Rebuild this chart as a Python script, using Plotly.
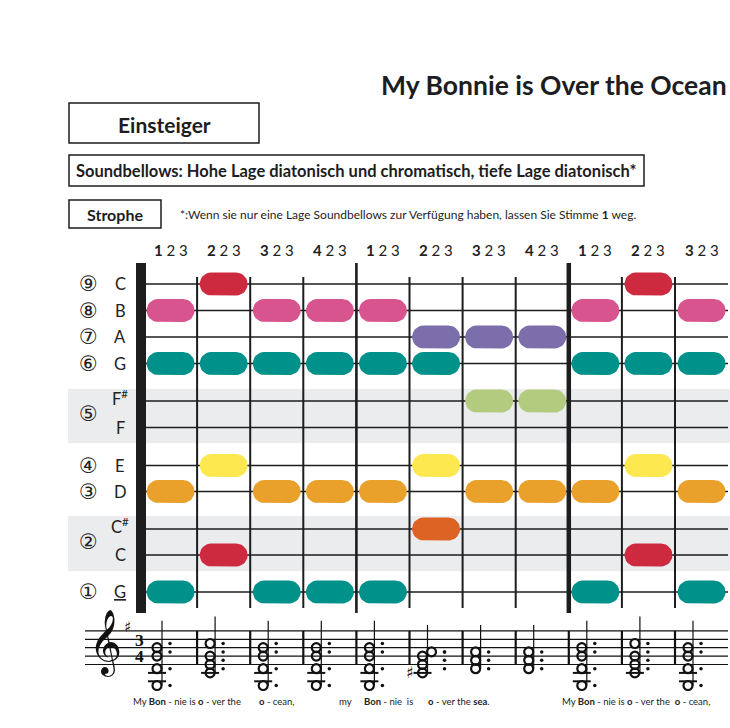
import numpy as np
import plotly.graph_objects as go

# ---------------- data ----------------
TITLE = "My Bonnie is Over the Ocean"
LEVEL = "Einsteiger"
SUBTITLE = "Soundbellows: Hohe Lage diatonisch und chromatisch, tiefe Lage diatonisch*"
SECTION = "Strophe"
FOOTNOTE = "*:Wenn sie nur eine Lage Soundbellows zur Verfügung haben, lassen Sie Stimme <b>1</b> weg."

MEASURE_NUMBERS = ["1", "2", "3", "4", "1", "2", "3", "4", "1", "2", "3"]

ROW_KEYS = ["C9", "B8", "A7", "G6", "Fs5", "F5", "E4", "D3", "Cs2", "C2", "G1"]
ROW_LETTERS = ["C", "B", "A", "G", "F<sup>#</sup>", "F", "E", "D", "C<sup>#</sup>", "C", "<u>G</u>"]
ROW_CIRCLED = {"C9": "⑨", "B8": "⑧", "A7": "⑦", "G6": "⑥", "Fs5/F5": "⑤",
               "E4": "④", "D3": "③", "Cs2/C2": "②", "G1": "①"}
ROW_NOTE_NAME = {"C9": "C", "B8": "B", "A7": "A", "G6": "G", "Fs5": "F#", "F5": "F",
                 "E4": "E", "D3": "D", "Cs2": "C#", "C2": "C", "G1": "G"}
# diatonic staff step relative to E4 (bottom staff line)
STAFF_STEP = {"C9": 5, "B8": 4, "A7": 3, "G6": 2, "Fs5": 1, "F5": 1,
              "E4": 0, "D3": -1, "Cs2": -2, "C2": -2, "G1": -5}

CHORDS = [
    ["B8", "G6", "D3", "G1"],
    ["C9", "G6", "E4", "C2"],
    ["B8", "G6", "D3", "G1"],
    ["B8", "G6", "D3", "G1"],
    ["B8", "G6", "D3", "G1"],
    ["A7", "G6", "E4", "Cs2"],
    ["A7", "Fs5", "D3"],
    ["A7", "Fs5", "D3"],
    ["B8", "G6", "D3", "G1"],
    ["C9", "G6", "E4", "C2"],
    ["B8", "G6", "D3", "G1"],
]
ACCIDENTALS = {5: "Cs2"}  # column -> note with explicit sharp

LYRICS = [
    (131, "My <b>Bon</b> - nie is <b>o</b> - ver the"),
    (257, "<b>o</b> - cean,"),
    (337, "my"),
    (362, "<b>Bon</b> - nie  is"),
    (426, "<b>o</b> - ver the <b>sea</b>."),
    (560, "My <b>Bon</b> - nie is <b>o</b> - ver the  <b>o</b> - cean,"),
]

NOTE_COLORS = {"C": "#CE2A3F", "B": "#D8548E", "A": "#7B6EAB", "G": "#00918B",
               "F#": "#B3CB7E", "E": "#FDE84F", "D": "#E9A12C", "C#": "#DD6324"}

# ---------------- layout constants ----------------
W, H = 730, 728
X0, COLW = 144.0, 53.1           # pixel of x=0 and pixel width of one measure column
ROW_Y = {"C9": 284, "B8": 310.5, "A7": 337, "G6": 363.5, "Fs5": 401, "F5": 427.5,
         "E4": 465.5, "D3": 491.5, "Cs2": 529, "C2": 555, "G1": 592}
STAFF_BOTTOM, STEP_PX = 664.5, 4.2
NARROW = "Lato, Roboto, sans-serif"


def ux(px):  # pixel offset -> x units
    return px / COLW


def xp(px):  # absolute pixel -> x data
    return (px - X0) / COLW


def staff_y(step):
    return STAFF_BOTTOM - step * STEP_PX


fig = go.Figure()
shapes = []
ann = []

# gray bands
for y0, y1 in [(389, 443), (516, 571)]:
    shapes.append(dict(type="rect", xref="x", yref="y", x0=xp(68), x1=xp(730), y0=y0, y1=y1,
                       fillcolor="#EBECEE", line_width=0, layer="below"))
# horizontal string lines
for k in ROW_KEYS:
    shapes.append(dict(type="line", xref="x", yref="y", x0=xp(140), x1=xp(728), y0=ROW_Y[k], y1=ROW_Y[k],
                       line=dict(color="#1d1d1f", width=1.3), layer="below"))
# vertical beat lines
ncol = len(MEASURE_NUMBERS)
for c in range(1, ncol):
    if c in (4, 8):
        w = 2.6 if c == 4 else 4.5
        shapes.append(dict(type="line", xref="x", yref="y", x0=c, x1=c, y0=263, y1=613,
                           line=dict(color="#1d1d1f", width=w), layer="below"))
    else:
        shapes.append(dict(type="line", xref="x", yref="y", x0=c, x1=c, y0=277, y1=608,
                           line=dict(color="#1d1d1f", width=2), layer="below"))
# thick left bar
shapes.append(dict(type="rect", xref="x", yref="y", x0=xp(136), x1=xp(146), y0=263, y1=613,
                   fillcolor="#1d1d1f", line_width=0, layer="below"))

# pills
HW, R = 24.0, 11.5
t_r = np.linspace(-np.pi / 2, np.pi / 2, 16)
t_l = np.linspace(np.pi / 2, 3 * np.pi / 2, 16)
groups = {}
for c, chord in enumerate(CHORDS):
    for key in chord:
        groups.setdefault(ROW_NOTE_NAME[key], []).append((c + 0.5, ROW_Y[key]))
for name, pts in groups.items():
    xs, ys = [], []
    for cx, cy in pts:
        xr = cx + ux(HW - R) + ux(R) * np.cos(t_r)
        yr = cy + R * np.sin(t_r)
        xl = cx - ux(HW - R) + ux(R) * np.cos(t_l)
        yl = cy + R * np.sin(t_l)
        xs += list(xr) + list(xl) + [xr[0], None]
        ys += list(yr) + list(yl) + [yr[0], None]
    fig.add_trace(go.Scatter(x=xs, y=ys, mode="lines", fill="toself", fillcolor=NOTE_COLORS[name],
                             line=dict(width=0, color=NOTE_COLORS[name]), hoverinfo="skip",
                             showlegend=False))

# header numbers
for c, m in enumerate(MEASURE_NUMBERS):
    ann.append(dict(x=c + 0.5, y=250, xref="x", yref="y", showarrow=False,
                    text=f"<b>{m}</b> 2 3", font=dict(size=15, color="#222", family="Lato, DejaVu Sans")))

# row labels
for k, lab in zip(ROW_KEYS, ROW_LETTERS):
    ann.append(dict(x=xp(120), y=ROW_Y[k] + (-3 if "sup" in lab else 0), xref="x", yref="y", showarrow=False,
                    text=lab, font=dict(size=16.5, color="#222", family="Lato, DejaVu Sans")))
for key, sym in ROW_CIRCLED.items():
    ks = key.split("/")
    yy = np.mean([ROW_Y[k] for k in ks])
    ann.append(dict(x=xp(88), y=yy, xref="x", yref="y", showarrow=False, text=sym,
                    font=dict(size=21, color="#222", family="DejaVu Sans")))

# staff
for i in range(5):
    yy = staff_y(2 * i)
    shapes.append(dict(type="line", xref="x", yref="y", x0=xp(85), x1=xp(728), y0=yy, y1=yy,
                       line=dict(color="#111", width=1.2)))
for c in range(1, ncol):
    shapes.append(dict(type="line", xref="x", yref="y", x0=c, x1=c, y0=staff_y(8), y1=staff_y(0),
                       line=dict(color="#111", width=2.2)))

# notes
hx, hy, dx, dy = [], [], [], []
for c, chord in enumerate(CHORDS):
    base = c + ux(13)
    steps = sorted(STAFF_STEP[k] for k in chord)
    has_second = any(b - a == 1 for a, b in zip(steps, steps[1:]))
    for i, s in enumerate(steps):
        off = ux(9) if (i > 0 and s - steps[i - 1] == 1) else 0
        hx.append(base + off)
        hy.append(staff_y(s))
        ds = s + 1 if s % 2 == 0 else s
        dx.append(base + ux(13) + (ux(9) if has_second else 0))
        dy.append(staff_y(ds))
    # stem
    sx = base + ux(5)
    shapes.append(dict(type="line", xref="x", yref="y", x0=sx, x1=sx, y0=staff_y(steps[0]),
                       y1=staff_y(steps[-1]) - 27, line=dict(color="#111", width=1.2)))
    # ledger lines
    s = -2
    while s >= steps[0]:
        shapes.append(dict(type="line", xref="x", yref="y", x0=base - ux(9), x1=base + ux(9),
                           y0=staff_y(s), y1=staff_y(s), line=dict(color="#111", width=2)))
        s -= 2
    if c in ACCIDENTALS:
        ann.append(dict(x=base - ux(13), y=staff_y(STAFF_STEP[ACCIDENTALS[c]]), xref="x", yref="y",
                        showarrow=False, text="♯", font=dict(size=16, color="#111", family="DejaVu Sans")))

fig.add_trace(go.Scatter(x=hx, y=hy, mode="markers", hoverinfo="skip", showlegend=False,
                         marker=dict(symbol="circle-open", size=9, color="#111", line=dict(width=2.2))))
fig.add_trace(go.Scatter(x=dx, y=dy, mode="markers", hoverinfo="skip", showlegend=False,
                         marker=dict(symbol="circle", size=3.5, color="#111")))

# clef, key and time signature
ann.append(dict(x=xp(105), y=643, xref="x", yref="y", showarrow=False, text="𝄞",
                font=dict(size=56, color="#111", family="DejaVu Sans, Noto Sans Symbols2, serif")))
ann.append(dict(x=xp(127.5), y=627, xref="x", yref="y", showarrow=False, text="♯",
                font=dict(size=15, color="#111", family="DejaVu Sans")))
ann.append(dict(x=xp(139), y=639.5, xref="x", yref="y", showarrow=False, text="<b>3</b>",
                font=dict(size=17.5, color="#111", family="Liberation Serif")))
ann.append(dict(x=xp(139), y=656, xref="x", yref="y", showarrow=False, text="<b>4</b>",
                font=dict(size=17.5, color="#111", family="Liberation Serif")))

# lyrics
for px, txt in LYRICS:
    ann.append(dict(x=xp(px), y=701, xref="x", yref="y", showarrow=False, xanchor="left", text=txt,
                    font=dict(size=9.5, color="#222", family=NARROW)))

# header texts and boxes
ann.append(dict(x=xp(729), y=85, xref="x", yref="y", xanchor="right", showarrow=False,
                text=f"<b>{TITLE}</b>", font=dict(size=26.5, color="#1d1d1f", family=NARROW)))
for (x0, x1, y0, y1) in [(69, 259, 103, 143), (69, 644, 155, 186), (69, 161, 200, 228)]:
    shapes.append(dict(type="rect", xref="x", yref="y", x0=xp(x0), x1=xp(x1), y0=y0, y1=y1,
                       line=dict(color="#1d1d1f", width=1.5), fillcolor="rgba(0,0,0,0)"))
ann.append(dict(x=xp(164), y=124, xref="x", yref="y", showarrow=False, text=f"<b>{LEVEL}</b>",
                font=dict(size=21, color="#1d1d1f", family=NARROW)))
ann.append(dict(x=xp(356), y=171, xref="x", yref="y", showarrow=False, text=f"<b>{SUBTITLE}</b>",
                font=dict(size=16.5, color="#1d1d1f", family=NARROW)))
ann.append(dict(x=xp(115), y=214, xref="x", yref="y", showarrow=False, text=f"<b>{SECTION}</b>",
                font=dict(size=16, color="#1d1d1f", family=NARROW)))
ann.append(dict(x=xp(178), y=214, xref="x", yref="y", xanchor="left", showarrow=False, text=FOOTNOTE,
                font=dict(size=12, color="#1d1d1f", family=NARROW)))

fig.update_layout(
    width=W, height=H, margin=dict(l=0, r=0, t=0, b=0),
    paper_bgcolor="white", plot_bgcolor="white",
    xaxis=dict(range=[xp(0), xp(W)], visible=False, fixedrange=True),
    yaxis=dict(range=[H, 0], visible=False, fixedrange=True),
    shapes=shapes, annotations=ann, showlegend=False,
)
fig.write_html("out.html", config={"displayModeBar": False},
               post_script="document.body.style.margin='0px';")
